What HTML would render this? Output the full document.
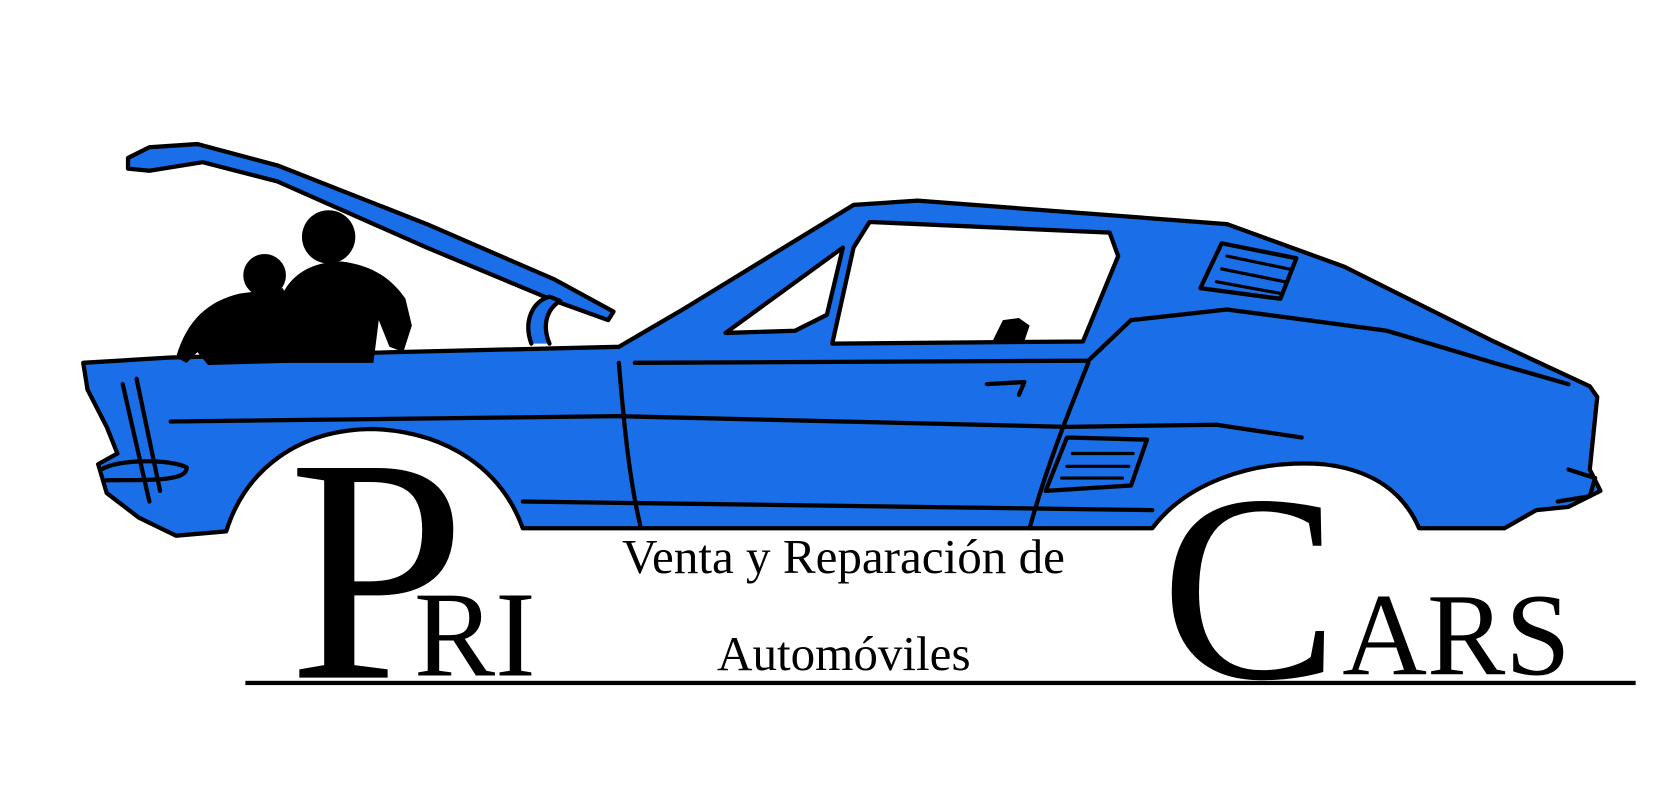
<!DOCTYPE html>
<html><head><meta charset="utf-8"><style>
html,body{margin:0;padding:0;background:#fff;}
svg{display:block;}
text{font-family:"Liberation Serif",serif;fill:#000;}
</style></head><body>
<svg width="1673" height="811" viewBox="0 0 1568 760" preserveAspectRatio="none" xmlns="http://www.w3.org/2000/svg">
<g stroke="#000" stroke-width="4" stroke-linejoin="round" stroke-linecap="round">
<path d="M120,148 L140,138 L185,135 L260,155 L400,210 L520,262 L575,292 L570,300 L520,282 L400,232 L260,170 L190,152 L140,160 L120,158 Z" fill="#1a6ee8"/>
<path d="M78,340 L160,335 L580,325 L640,290 L800,192 L860,188 L1150,210 L1260,250 L1400,320 L1490,362 L1497,372 L1490,440 L1500,460 L1470,475 L1440,478 L1410,495 L1330,495 C1315,460 1285,440 1240,435 C1170,430 1110,455 1080,495 L490,495 C470,440 420,405 350,402 C280,402 230,440 212,498 L165,502 L130,485 L100,462 L92,435 L110,425 L100,400 L82,365 Z" fill="#1a6ee8"/>
<path d="M815,208 L1040,218 L1048,240 L1015,320 L780,322 L800,232 Z" fill="#fff"/>
<path d="M680,312 L790,232 L775,295 L745,310 Z" fill="#fff"/>
<path d="M498,322 C490,300 500,282 515,278 L525,282 C512,290 508,305 515,322" fill="#1a6ee8"/>
<path d="M160,395 L580,390 L1000,400 L1140,398 L1220,410" fill="none"/>
<path d="M595,340 L1020,338 L1060,300 L1150,290 L1300,310 L1400,340 L1470,360" fill="none"/>
<path d="M580,340 C585,400 590,450 600,492" fill="none"/>
<path d="M1020,340 C1000,390 980,440 965,495" fill="none"/>
<path d="M490,470 L1080,478" fill="none"/>
<path d="M925,360 L960,358 L955,370" fill="none"/>
<path d="M1125,270 L1145,228 L1215,242 L1200,280 Z" fill="none"/>
<path d="M1000,410 L1075,412 L1060,455 L980,460 Z" fill="none"/>
<path d="M1005,425 L1062,425 M1000,437 L1058,437 M995,448 L1052,448" fill="none" stroke-width="3"/>
<path d="M1150,240 L1208,252 M1145,252 L1204,264 M1140,264 L1200,275" fill="none" stroke-width="3"/>
<path d="M95,440 C110,430 160,430 175,438 C175,450 150,450 100,450" fill="#1a6ee8"/>
<path d="M115,360 L140,470 M128,355 L150,460" fill="none"/>
<path d="M1470,440 L1495,448 L1490,465 L1460,470" fill="#1a6ee8"/>
</g>
<g fill="#000">
<circle cx="248" cy="258" r="20"/>
<path d="M165,335 C175,300 195,282 225,275 L265,270 L275,290 L270,340 L195,342 L185,330 L175,340 Z"/>
<circle cx="308" cy="222" r="25"/>
<path d="M262,340 L265,275 C275,255 295,245 320,245 C345,248 365,258 380,280 L386,305 L378,330 L365,325 L355,300 L350,340 Z"/>
<path d="M930,320 L940,300 L955,298 L965,305 L960,320 Z"/>
</g>
<text x="270" y="635" font-size="300">P</text>
<text x="388" y="633" font-size="114">RI</text>
<text x="583" y="537" font-size="46">Venta y Reparación de</text>
<text x="672" y="628" font-size="46">Automóviles</text>
<text x="1088" y="635" font-size="250">C</text>
<text x="1258" y="632" font-size="110">ARS</text>
<rect x="230" y="638" width="1303" height="4" fill="#000"/>
</svg>
</body></html>
